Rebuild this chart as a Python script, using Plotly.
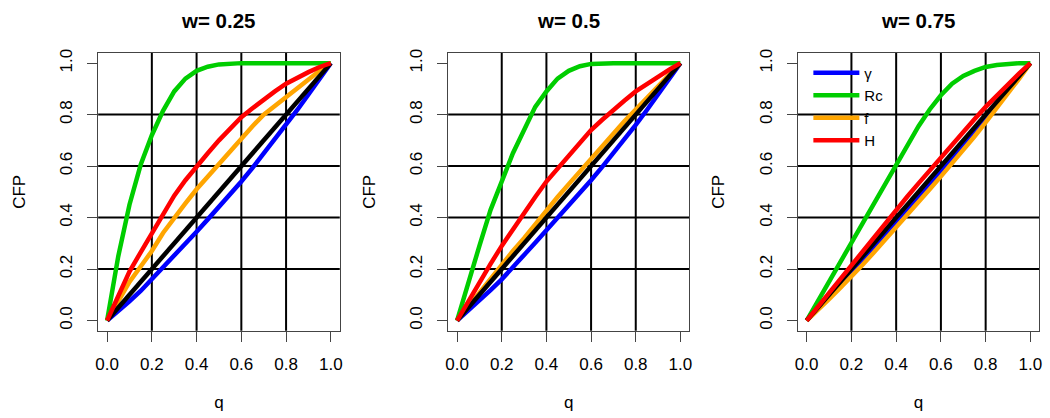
import plotly.graph_objects as go

# ---------------- data ----------------
Q = [0.0, 0.05, 0.1, 0.15, 0.2, 0.25, 0.3, 0.35, 0.4, 0.45, 0.5,
     0.55, 0.6, 0.65, 0.7, 0.75, 0.8, 0.85, 0.9, 0.95, 1.0]
DIAG = [0.0, 0.05, 0.1, 0.15, 0.2, 0.25, 0.3, 0.35, 0.4, 0.45, 0.5,
        0.55, 0.6, 0.65, 0.7, 0.75, 0.8, 0.85, 0.9, 0.95, 1.0]

W_LABELS = ["w= 0.25", "w= 0.5", "w= 0.75"]
SERIES_NAMES = ["γ", "Rc", "f", "H"]

# w = 0.25
gamma_025 = [0, .035, .075, .115, .16, .205, .25, .297, .345, .393, .44, .49, .54, .593, .648, .703, .76, .818, .878, .938, 1]
rc_025 = [0, .25, .45, .605, .72, .815, .89, .94, .97, .986, .995, .999, 1, 1, 1, 1, 1, 1, 1, 1, 1]
f_025 = [0, .075, .15, .21, .27, .34, .40, .455, .51, .56, .61, .66, .71, .755, .80, .835, .87, .905, .94, .97, 1]
h_025 = [0, .095, .19, .265, .34, .415, .485, .545, .60, .65, .70, .745, .79, .825, .86, .89, .92, .945, .965, .985, 1]

# w = 0.5
gamma_050 = [0, .038, .08, .118, .16, .205, .255, .302, .35, .397, .445, .495, .545, .597, .65, .705, .76, .818, .878, .938, 1]
rc_050 = [0, .15, .29, .43, .54, .65, .74, .83, .89, .94, .97, .988, .997, 1, 1, 1, 1, 1, 1, 1, 1]
f_050 = [0, .055, .11, .16, .215, .27, .32, .375, .43, .48, .53, .58, .63, .68, .725, .775, .82, .865, .91, .955, 1]
h_050 = [0, .075, .15, .22, .29, .355, .42, .48, .54, .59, .645, .695, .74, .78, .82, .855, .89, .92, .95, .975, 1]

# w = 0.75
gamma_075 = [0, .047, .095, .142, .19, .238, .287, .336, .385, .433, .482, .531, .58, .63, .685, .737, .79, .842, .895, .948, 1]
rc_075 = [0, .075, .15, .225, .30, .375, .45, .525, .60, .68, .755, .82, .875, .92, .95, .97, .985, .993, .998, 1, 1]
f_075 = [0, .04, .083, .127, .17, .217, .264, .312, .36, .41, .46, .51, .56, .61, .66, .715, .77, .825, .88, .94, 1]
h_075 = [0, .054, .108, .161, .215, .268, .322, .376, .43, .482, .533, .584, .635, .684, .733, .782, .83, .875, .92, .96, 1]

PANELS = [
    [gamma_025, rc_025, f_025, h_025],
    [gamma_050, rc_050, f_050, h_050],
    [gamma_075, rc_075, f_075, h_075],
]

TICKS = [0.0, 0.2, 0.4, 0.6, 0.8, 1.0]
TICK_TEXT = ["0.0", "0.2", "0.4", "0.6", "0.8", "1.0"]
GRID = [0.2, 0.4, 0.6, 0.8]

# ---------------- style ----------------
COLORS = ["#0000ff", "#00cd00", "#ffa500", "#ff0000"]
FONT = "Liberation Sans, Arial, Helvetica, sans-serif"
W, H = 1050, 418
X_DOMAINS = [[95.7 / W, 338.7 / W], [447.7 / W, 690.3 / W], [799.3 / W, 1042.3 / W]]
Y_DOMAIN = [(H - 330.0) / H, (H - 49.3) / H]
LW = 4.5

fig = go.Figure()

for i, series in enumerate(PANELS):
    xa = "x" if i == 0 else f"x{i+1}"
    ya = "y" if i == 0 else f"y{i+1}"
    # draw order: gamma, Rc, f, diagonal, H
    for k in [0, 1, 2]:
        fig.add_trace(go.Scatter(
            x=Q, y=series[k], mode="lines", name=SERIES_NAMES[k],
            line=dict(color=COLORS[k], width=LW),
            xaxis=xa, yaxis=ya, showlegend=(i == 2), legendgroup=SERIES_NAMES[k]))
    fig.add_trace(go.Scatter(
        x=Q, y=DIAG, mode="lines", name="q",
        line=dict(color="black", width=LW),
        xaxis=xa, yaxis=ya, showlegend=False))
    fig.add_trace(go.Scatter(
        x=Q, y=series[3], mode="lines", name=SERIES_NAMES[3],
        line=dict(color=COLORS[3], width=LW),
        xaxis=xa, yaxis=ya, showlegend=(i == 2), legendgroup=SERIES_NAMES[3]))

axis_common = dict(
    range=[-0.04, 1.04], tickmode="array", tickvals=TICKS, ticktext=TICK_TEXT,
    ticks="outside", ticklen=10, tickwidth=1, tickcolor="#444",
    showline=True, mirror=True, linecolor="#444", linewidth=1,
    showgrid=False, zeroline=False, fixedrange=True,
    tickfont=dict(family=FONT, size=17, color="black"),
)

layout = dict(
    width=W, height=H, margin=dict(l=0, r=0, t=0, b=0),
    paper_bgcolor="white", plot_bgcolor="white",
    font=dict(family=FONT, size=17, color="black"),
    showlegend=True,
    legend=dict(x=810 / W, y=(H - 53) / H, xanchor="left", yanchor="top",
                bgcolor="rgba(0,0,0,0)", borderwidth=0,
                font=dict(family=FONT, size=15, color="black"),
                tracegroupgap=0, itemwidth=46),
)

shapes = []
annotations = []
for i in range(3):
    sx = "" if i == 0 else str(i + 1)
    layout["xaxis" + sx] = dict(axis_common, domain=X_DOMAINS[i], anchor="y" + sx,
                                ticklabelstandoff=8,
                                title=dict(text="q", standoff=22,
                                           font=dict(family=FONT, size=17)))
    layout["yaxis" + sx] = dict(axis_common, domain=Y_DOMAIN, anchor="x" + sx,
                                tickangle=-90, ticklabelstandoff=8,
                                title=dict(text="CFP", standoff=27,
                                           font=dict(family=FONT, size=17)))
    for g in GRID:
        shapes.append(dict(type="line", layer="below", xref="x" + sx, yref="y" + sx + " domain",
                           x0=g, x1=g, y0=0, y1=1, line=dict(color="black", width=2)))
        shapes.append(dict(type="line", layer="below", xref="x" + sx + " domain", yref="y" + sx,
                           x0=0, x1=1, y0=g, y1=g, line=dict(color="black", width=2)))
    annotations.append(dict(text="<b>" + W_LABELS[i] + "</b>", xref="paper", yref="paper",
                            x=(X_DOMAINS[i][0] + X_DOMAINS[i][1]) / 2, y=1 - 17 / H,
                            xanchor="center", yanchor="middle", showarrow=False,
                            font=dict(family=FONT, size=20.5, color="black")))

layout["shapes"] = shapes
layout["annotations"] = annotations
fig.update_layout(**layout)

fig.write_html("out.html", config={"displayModeBar": False},
               post_script="document.body.style.margin='0px';document.body.style.padding='0px';")
